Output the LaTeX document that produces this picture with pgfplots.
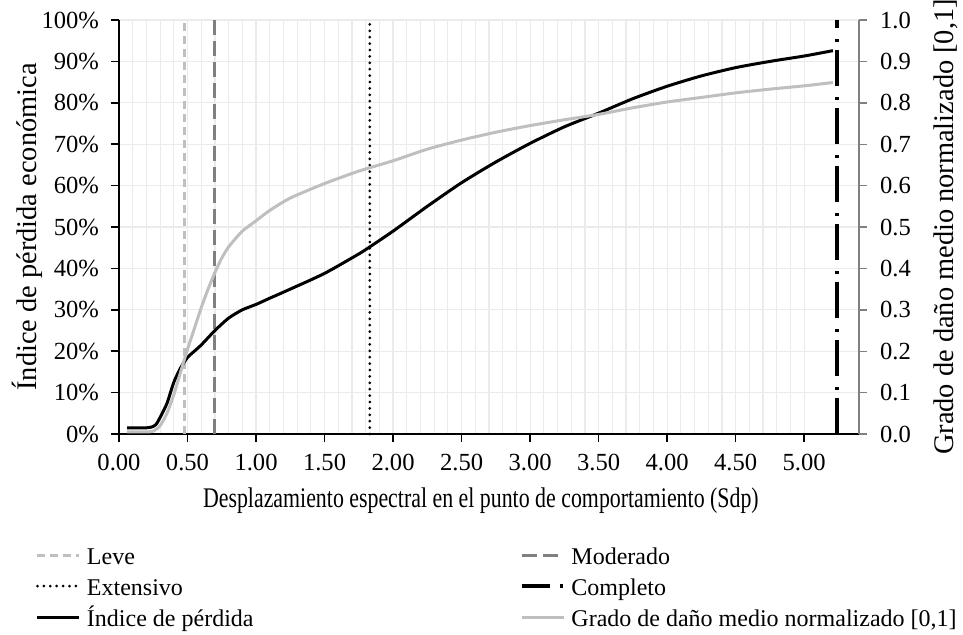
\documentclass[border=0pt]{standalone}
\usepackage{fontspec}
\setmainfont{Liberation Serif}
\usepackage{graphicx}
\usepackage{pgfplots}
\pgfplotsset{compat=1.18}

\definecolor{lightgr}{HTML}{BFBFBF}
\definecolor{midgr}{HTML}{808080}
\definecolor{gridgr}{HTML}{EBEBEB}

% damage-state thresholds (Sdp)
\pgfplotstableread{
x y
0.48 0
0.48 100
}\leve
\pgfplotstableread{
x y
0.70 0
0.70 100
}\moderado
\pgfplotstableread{
x y
1.83 0
1.83 100
}\extensivo
\pgfplotstableread{
x y
5.24 0
5.24 100
}\completo

% economic loss index (%)
\pgfplotstableread{
x y
0.06 1.5
0.10 1.5
0.15 1.5
0.20 1.5
0.24 1.7
0.27 2.3
0.30 4.0
0.35 7.4
0.40 12.5
0.45 16.0
0.50 18.5
0.55 20.0
0.60 21.5
0.70 25.0
0.80 28.0
0.90 30.0
1.00 31.3
1.10 32.8
1.25 35.0
1.50 38.8
1.75 43.5
1.83 45.2
2.00 49.0
2.25 55.0
2.50 60.7
2.75 65.7
3.00 70.2
3.25 74.2
3.50 77.5
3.75 81.0
4.00 84.0
4.25 86.5
4.50 88.5
4.75 90.0
5.00 91.3
5.21 92.6
}\perdida

% normalised mean damage grade [0,1]
\pgfplotstableread{
x y
0.06 0.005
0.20 0.005
0.25 0.007
0.30 0.020
0.35 0.050
0.40 0.095
0.45 0.150
0.50 0.205
0.55 0.255
0.60 0.305
0.65 0.350
0.70 0.390
0.75 0.425
0.80 0.452
0.90 0.490
1.00 0.515
1.10 0.540
1.25 0.570
1.50 0.605
1.75 0.635
2.00 0.660
2.25 0.688
2.50 0.710
2.75 0.729
3.00 0.745
3.25 0.759
3.50 0.772
3.75 0.788
4.00 0.802
4.25 0.813
4.50 0.824
4.75 0.833
5.00 0.841
5.21 0.849
}\dano

\tikzset{
  leve/.style={lightgr, line width=1.5pt, dash pattern=on 4pt off 2.5pt},
  moderado/.style={midgr, line width=1.5pt, dash pattern=on 7.5pt off 3pt},
  extensivo/.style={black, line width=1.5pt, line cap=round, dash pattern=on 0pt off 3.2pt},
  completo/.style={black, line width=1.75pt, dash pattern=on 18pt off 4pt on 1.5pt off 5.5pt},
  completoleg/.style={black, line width=1.75pt, dash pattern=on 14pt off 5pt on 1.6pt off 10pt},
  perdida/.style={black, line width=1.5pt, line join=round},
  dano/.style={lightgr, line width=1.5pt, line join=round},
  titlefont/.style={font=\fontsize{14.2}{16}\selectfont},
}

\begin{document}
\begin{tikzpicture}[font=\fontsize{12.3}{14.5}\selectfont]
\useasboundingbox (-59.5pt,-100pt) rectangle (422pt,217pt);
\begin{axis}[
  at={(0,0)}, anchor=south west,
  width=370pt, height=207pt, scale only axis,
  xmin=0, xmax=5.4, ymin=0, ymax=100,
  axis x line*=bottom, axis y line*=left,
  x axis line style={line width=1.3pt, -},
  y axis line style={line width=1.1pt, -},
  xtick={0,0.5,1,1.5,2,2.5,3,3.5,4,4.5,5},
  minor x tick num=4,
  ytick={0,10,20,30,40,50,60,70,80,90,100},
  tick align=outside,
  major tick length=4pt, minor tick length=0pt,
  tick style={black, line width=0.8pt},
  grid=both,
  major grid style={gridgr, line width=0.6pt},
  minor grid style={gridgr, line width=0.6pt},
  /pgf/number format/assume math mode=true,
  xticklabel style={yshift=-2.5pt, /pgf/number format/.cd, fixed, fixed zerofill, precision=2},
  yticklabel style={xshift=-2.5pt},
  yticklabel={\pgfmathprintnumber{\tick}\%},
  xlabel={\scalebox{0.77}[1]{Desplazamiento espectral en el punto de comportamiento (Sdp)}},
  xlabel style={titlefont, at={(axis description cs:0.489,-0.161)}, anchor=center},
  ylabel={Índice de pérdida económica},
  ylabel style={titlefont, at={(axis description cs:-0.124,0.5)}, anchor=center},
  clip=false,
]
\addplot[leve] table {\leve};
\addplot[moderado] table {\moderado};
\addplot[extensivo] table {\extensivo};
\addplot[completo] table {\completo};
\addplot[perdida, smooth, tension=0.4] table {\perdida};
\end{axis}

\begin{axis}[
  at={(0,0)}, anchor=south west,
  width=370pt, height=207pt, scale only axis,
  xmin=0, xmax=5.4, ymin=0, ymax=1,
  axis x line=none, axis y line*=right,
  y axis line style={midgr, line width=0.7pt, -},
  ytick={0,0.1,0.2,0.3,0.4,0.5,0.6,0.7,0.8,0.9,1},
  tick align=outside, major tick length=4pt,
  ytick style={midgr, line width=0.7pt},
  /pgf/number format/assume math mode=true,
  yticklabel style={xshift=3pt, /pgf/number format/.cd, fixed, fixed zerofill, precision=1},
  ylabel={Grado de daño medio normalizado [0,1]},
  ylabel style={titlefont, at={(axis description cs:1.1176,0.5)}, anchor=center},
  legend columns=2,
  legend cell align=left,
  legend image code/.code={\draw[#1] (0pt,0pt) -- (21pt,0pt);},
  legend style={
    font=\fontsize{12}{14}\selectfont,
    at={(axis description cs:-0.1122,-0.261)}, anchor=north west,
    draw=none, fill=none, inner sep=0pt, outer sep=0pt,
    row sep=2.5pt, column sep=2pt,
    nodes={inner xsep=1pt, inner ysep=0pt, text height=11pt, text depth=2pt},
  },
  clip=false,
]
\addlegendimage{leve}
\addlegendentry{\makebox[213.5pt][l]{Leve}}
\addlegendimage{moderado}
\addlegendentry{Moderado}
\addlegendimage{extensivo}
\addlegendentry{\makebox[213.5pt][l]{Extensivo}}
\addlegendimage{completoleg}
\addlegendentry{Completo}
\addlegendimage{perdida}
\addlegendentry{\makebox[213.5pt][l]{Índice de pérdida}}
\addplot[dano, smooth, tension=0.4] table {\dano};
\addlegendentry{Grado de daño medio normalizado [0,1]}
\end{axis}
\end{tikzpicture}
\end{document}
